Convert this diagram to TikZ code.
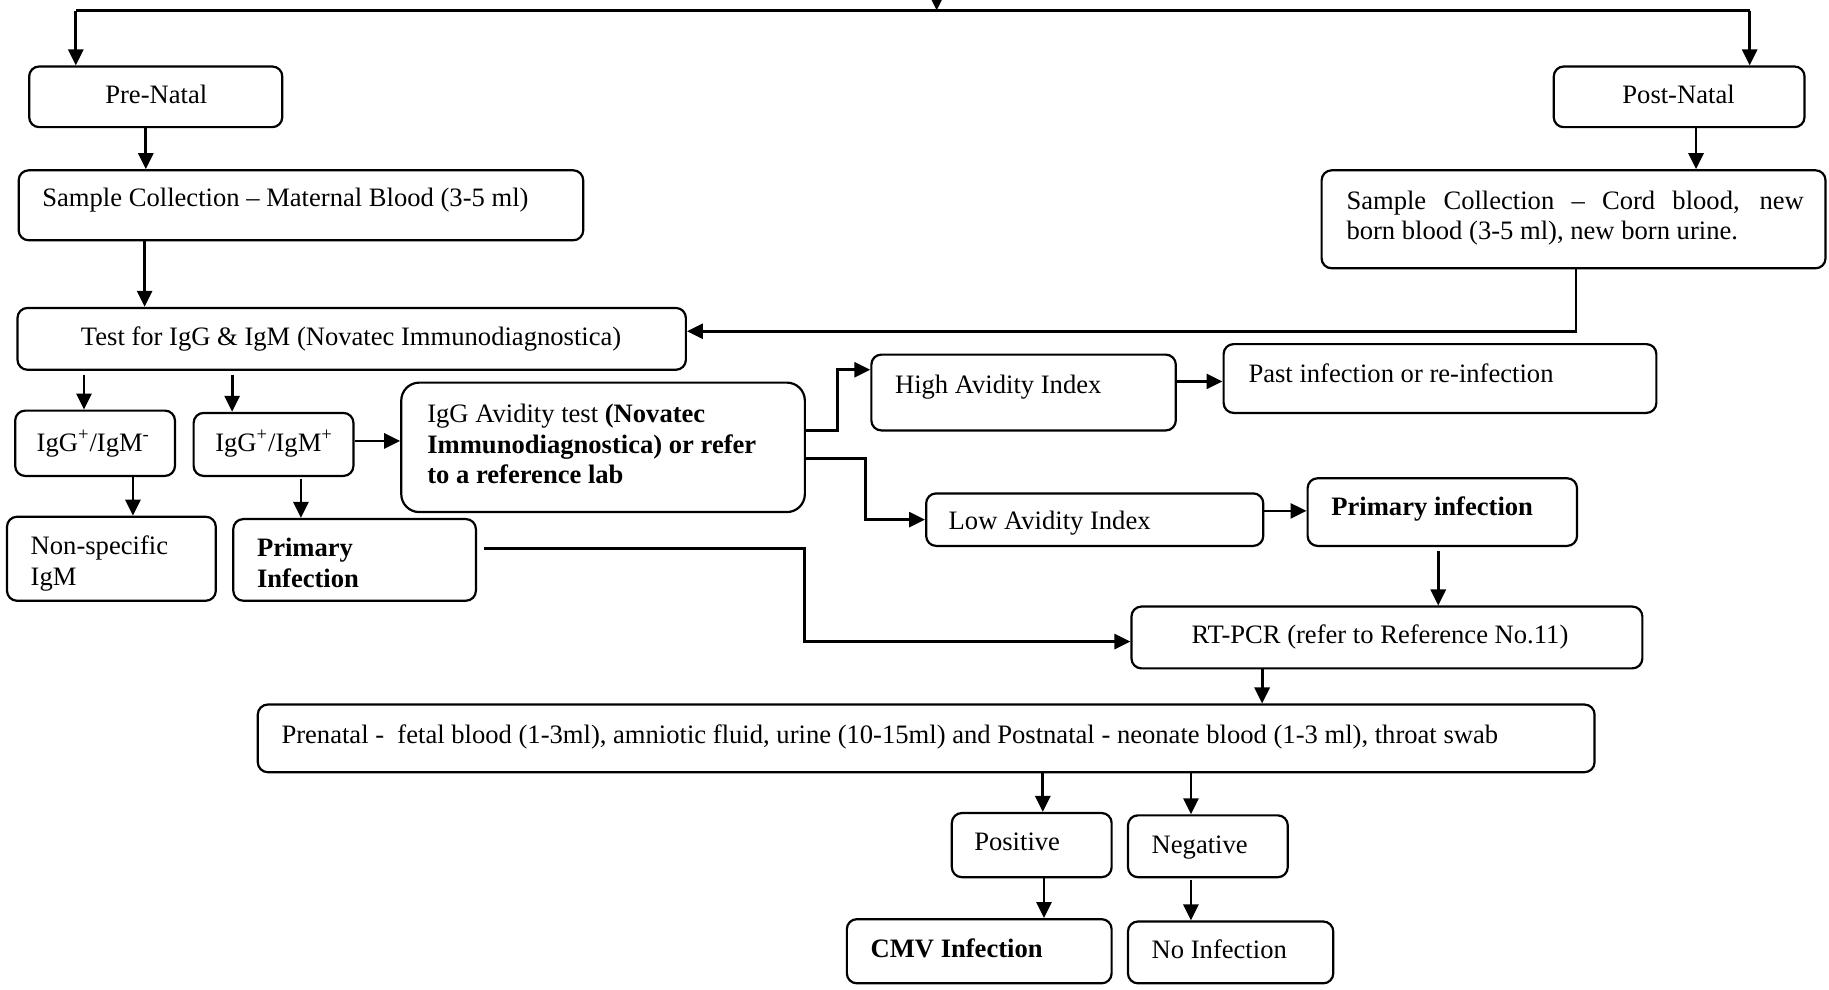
\documentclass[tikz,border=0pt]{standalone}
\usepackage{fontspec}
\setmainfont{Liberation Serif}
\usetikzlibrary{arrows.meta,fit}
\tikzset{
 box/.style={draw, rounded corners=5pt, line width=1.1pt, inner sep=0pt},
 txt/.style={inner sep=0pt, font=\fontsize{13.3}{15.3}\selectfont},
 arr/.style={-{Triangle[length=8pt,width=7.5pt]}, line width=1.4pt},
 ln/.style={line width=1.4pt},
}
\newcommand{\mybox}[6][]{\node[box,#1,fit={(#3,#4)(#5,#6)}] (#2) {};}
\begin{document}
\begin{tikzpicture}[x=0.5833pt, y=-0.5833pt]
\useasboundingbox (0,0) rectangle (1568,848);
% boxes
\mybox{pre}{25}{57}{242}{109}
\mybox{post}{1332}{57}{1547}{109}
\mybox{samp}{16}{146}{500}{206}
\mybox{cord}{1133}{146}{1565}{230}
\mybox{test}{15}{264}{588}{317}
\mybox{igm}{13}{352}{150}{408}
\mybox{igp}{166}{354}{303}{408}
\mybox[rounded corners=9pt]{avid}{344}{328}{690}{439}
\mybox{high}{747}{304}{1008}{369}
\mybox{past}{1049}{295}{1420}{354}
\mybox{low}{794}{423}{1083}{468}
\mybox{prim2}{1121}{410}{1352}{468}
\mybox{nonspec}{6}{443}{185}{515}
\mybox{prim1}{200}{445}{408}{515}
\mybox{rt}{970}{520}{1408}{573}
\mybox{pren}{221}{604}{1367}{662}
\mybox{pos}{816}{697}{953}{752}
\mybox{neg}{967}{699}{1104}{752}
\mybox{cmv}{726}{788}{953}{843}
\mybox{noinf}{967}{790}{1143}{843}
% texts
\node[txt,anchor=base] (pre-t) at (134,89) {Pre-Natal};
\node[txt,anchor=base] (post-t) at (1439,89) {Post-Natal};
\node[txt,anchor=base west] (samp-t) at (36,177) {Sample Collection – Maternal Blood (3-5 ml)};
\node[txt,anchor=north west,align=left] (cord-t) at (1154,160.6) {\strut\makebox[228.7pt][s]{Sample Collection – Cord blood, new}\\born blood (3-5 ml), new born urine.};
\node[txt,anchor=base] (test-t) at (301,296) {Test for IgG \& IgM (Novatec Immunodiagnostica)};
\node[txt,anchor=base] (igm-t) at (80,387) {IgG\textsuperscript{+}/IgM\textsuperscript{-}};
\node[txt,anchor=base] (igp-t) at (235,387) {IgG\textsuperscript{+}/IgM\textsuperscript{+}};
\node[txt,anchor=north west,align=left] (avid-t) at (366,343.6) {\strut IgG Avidity test \textbf{(Novatec}\\\textbf{Immunodiagnostica) or refer}\\\textbf{to a reference lab}};
\node[txt,anchor=base west] (high-t) at (767,337) {High Avidity Index};
\node[txt,anchor=base west] (past-t) at (1070,328) {Past infection or re-infection};
\node[txt,anchor=base west] (low-t) at (813,454) {Low Avidity Index};
\node[txt,anchor=base west] (prim2-t) at (1141,442) {\textbf{Primary infection}};
\node[txt,anchor=north west,align=left] (nonspec-t) at (26,456.6) {\strut Non-specific\\IgM};
\node[txt,anchor=north west,align=left] (prim1-t) at (220,458.6) {\strut\textbf{Primary}\\\textbf{Infection}};
\node[txt,anchor=base] (rt-t) at (1183,552) {RT-PCR (refer to Reference No.11)};
\node[txt,anchor=base west] (pren-t) at (241,637) {Prenatal -\ \ fetal blood (1-3ml), amniotic fluid, urine (10-15ml) and Postnatal - neonate blood (1-3 ml), throat swab};
\node[txt,anchor=base] (pos-t) at (872,729) {Positive};
\node[txt,anchor=base west] (neg-t) at (987,732) {Negative};
\node[txt,anchor=base west] (cmv-t) at (746,821) {\textbf{CMV Infection}};
\node[txt,anchor=base west] (noinf-t) at (987,822) {No Infection};
% helper coordinates
\coordinate (tl) at (65,9); \coordinate (tr) at (1500,9);
\coordinate (tc) at (803,9); \coordinate (tt) at (803,-3);
\foreach \xx in {72,114,124,125,199,258,690,718,742,894,895,1021,1082,1233,1351,1454}{\coordinate (c\xx) at (\xx,0);}
\foreach \yy in {284,317,327,369,378,393,438,550}{\coordinate (r\yy) at (0,\yy);}
\coordinate (s415) at (415,470);
% connectors
\draw[ln] (tl) -- (tr);
\draw[arr] (tt) -- (tc);
\draw[arr] (tl) -- (pre.north -| tl);
\draw[arr] (tr) -- (post.north -| tr);
\draw[arr] (pre.south -| c125) -- (samp.north -| c125);
\draw[arr] (post.south -| c1454) -- (cord.north -| c1454);
\draw[arr] (samp.south -| c124) -- (test.north -| c124);
\draw[arr] (cord.south -| c1351) |- (test.east |- r284);
\draw[arr] ([yshift=-2pt]test.south -| c72) -- (igm.north -| c72);
\draw[arr] ([yshift=-2pt]test.south -| c199) -- (igp.north -| c199);
\draw[arr] (igp.east |- r378) -- (avid.west |- r378);
\draw[arr] (igm.south -| c114) -- (nonspec.north -| c114);
\draw[arr] ([yshift=-1pt]igp.south -| c258) -- (prim1.north -| c258);
\draw[arr] (avid.east |- r369) -| (c718 |- r317) -- (high.west |- r317);
\draw[arr] (avid.east |- r393) -| (c742 |- low.west) -- (low.west);
\draw[arr] (high.east |- r327) -- (past.west |- r327);
\draw[arr] (low.east |- r438) -- (prim2.west |- r438);
\draw[arr] (s415) -| (c690 |- r550) -- (rt.west |- r550);
\draw[arr] ([yshift=-2pt]prim2.south -| c1233) -- (rt.north -| c1233);
\draw[arr] (rt.south -| c1082) -- (pren.north -| c1082);
\draw[arr] (pren.south -| c894) -- (pos.north -| c894);
\draw[arr] (pren.south -| c1021) -- (neg.north -| c1021);
\draw[arr] (pos.south -| c895) -- (cmv.north -| c895);
\draw[arr] ([yshift=-1pt]neg.south -| c1021) -- (noinf.north -| c1021);
\end{tikzpicture}
\end{document}
